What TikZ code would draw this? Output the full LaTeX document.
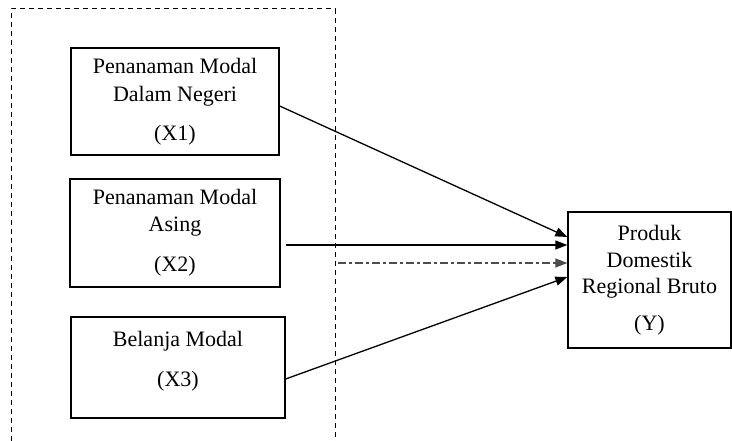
\documentclass[tikz,border=0pt]{standalone}
\usepackage{fontspec}
\setmainfont{Liberation Serif}
\usetikzlibrary{arrows.meta}
\begin{document}
\begin{tikzpicture}[x=1pt,y=-1pt,
  varbox/.style={draw, line width=1.3pt, inner sep=0pt, align=center,
    font=\fontsize{22}{26.5}\selectfont},
  link/.style={line width=1.3pt, -{Triangle[length=12pt,width=9pt]}},
  frame/.style={line width=1pt, dash pattern=on 5pt off 4pt},
  dashdot/.style={line width=1.2pt, draw=black!70, dash pattern=on 8pt off 3pt on 3pt off 3pt, -{Triangle[length=12pt,width=9pt]}}]
\useasboundingbox (0,0) rectangle (732,441);
\draw[frame] (11,441) -- (11,9) -- (335,9) -- (335,441);
\node[varbox, minimum width=208pt, minimum height=107pt] (X1) at (175,101.5)
  {Penanaman Modal\\[2pt]Dalam Negeri\\[12pt](X1)};
\node[varbox, minimum width=210pt, minimum height=108pt] (X2) at (175,233)
  {Penanaman Modal\\Asing\\[14pt](X2)};
\node[varbox, minimum width=214pt, minimum height=101pt] (X3) at (178,367.5)
  {Belanja Modal\\[14pt](X3)\\[-9.5pt]};
\node[varbox, minimum width=163pt, minimum height=136pt] (Y) at (649.5,280)
  {Produk\\Domestik\\Regional Bruto\\[10pt](Y)};
\coordinate (dd) at (338,263);
\draw[link] ([yshift=-4.5pt]X1.east) -- ([yshift=43pt]Y.west);
\draw[link] ([xshift=5pt,yshift=-12pt]X2.east) -- ([yshift=35pt]Y.west);
\draw[dashdot] (dd) -- ([yshift=17pt]Y.west);
\draw[link] ([yshift=-11.5pt]X3.east) -- ([yshift=3pt]Y.west);
\end{tikzpicture}
\end{document}
